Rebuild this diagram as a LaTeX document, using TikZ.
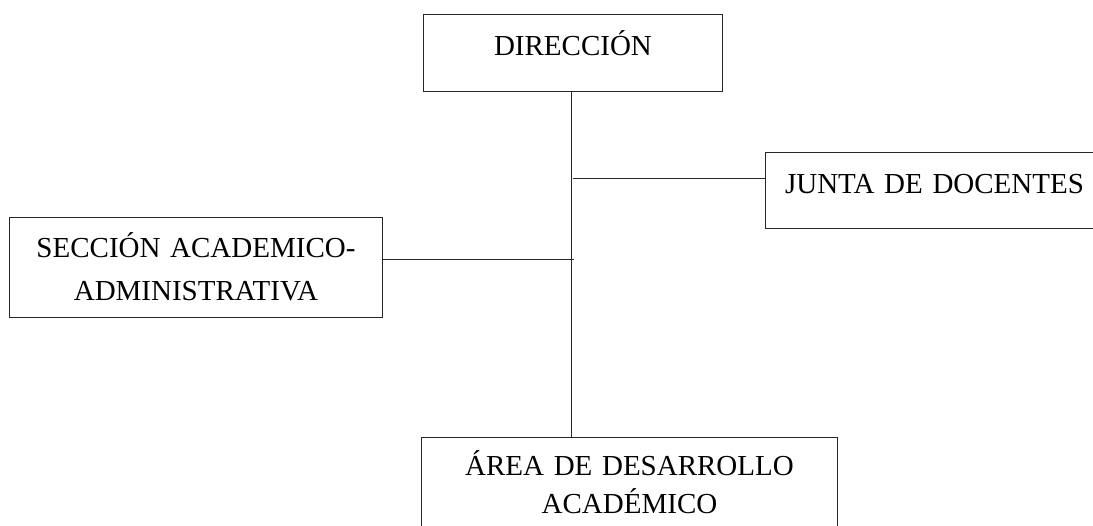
\documentclass[tikz,border=0pt]{standalone}
\usepackage{fontspec}
\setmainfont{Liberation Serif}
\begin{document}
\begin{tikzpicture}[x=1pt,y=-1pt,
  box/.style={draw=black!85, line width=1pt, inner sep=0pt, anchor=north west, align=center, font=\fontsize{29}{43}\selectfont},
  link/.style={draw=black!85, line width=1pt}]
\useasboundingbox (0,0) rectangle (1093,526);
\node[box, text width=299pt, text height=41pt, text depth=36pt] (dir) at (423,14) {DIRECCIÓN};
\node[box, text width=338pt, text height=41pt, text depth=35pt] (junta) at (765,152) {JUNTA DE DOCENTES};
\node[box, text width=373pt, text height=40pt, text depth=60pt] (secc) at (9,217) {SECCIÓN ACADEMICO-\\ADMINISTRATIVA};
\node[box, font=\fontsize{29}{38}\selectfont, text width=416pt, text height=38pt, text depth=85pt] (area) at (421,437) {ÁREA DE DESARROLLO\\ACADÉMICO};
\coordinate (vx) at (571,0);
\coordinate (jx) at (573,179);
\coordinate (sx) at (574,260);
\draw[link] (dir.south -| vx) -- (area.north -| vx);
\draw[link] (jx) -- (jx -| junta.west);
\draw[link] (sx -| secc.east) -- (sx);
\end{tikzpicture}
\end{document}
